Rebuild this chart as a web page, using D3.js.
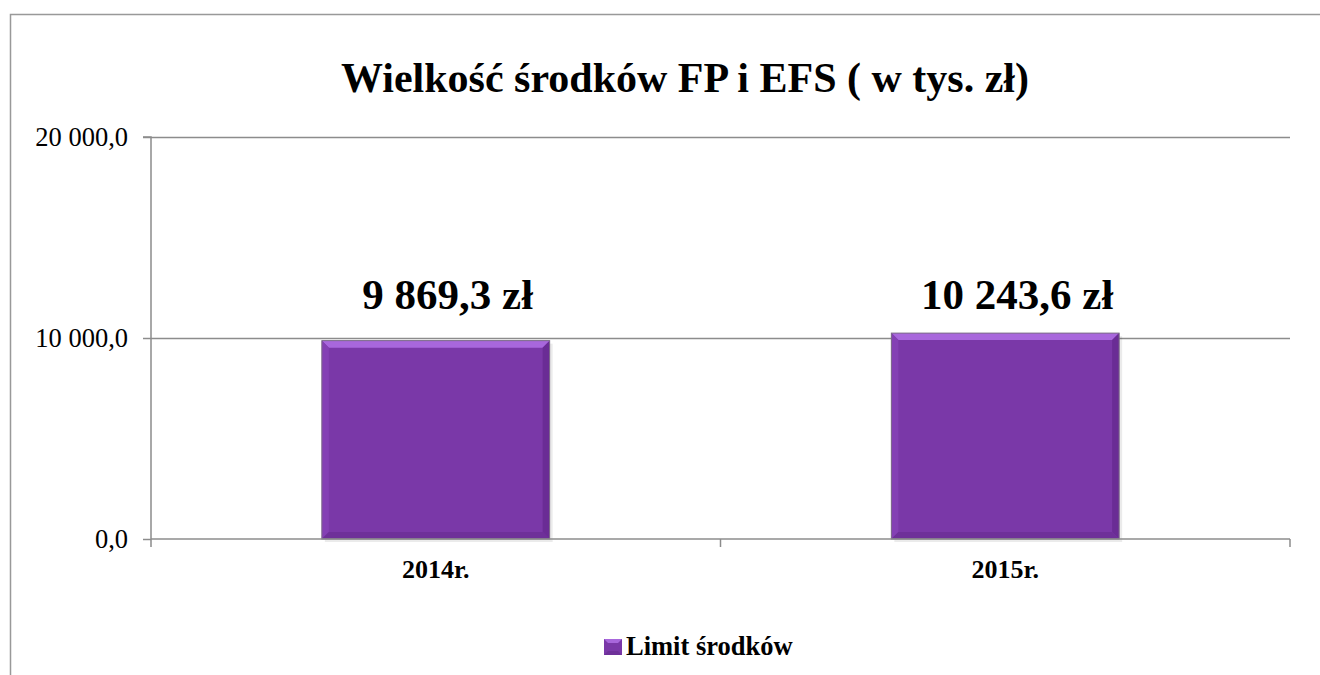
<!DOCTYPE html>
<html>
<head>
<meta charset="utf-8">
<script src="https://cdn.jsdelivr.net/npm/d3@7"></script>
<style>
  body { margin: 0; background: #fff; }
</style>
</head>
<body>
<svg id="chart"></svg>
<script>
// data
var categories = ["2014r.", "2015r."];
var values = [9869.3, 10243.6];
var yTicks = [0, 10000, 20000];
var seriesName = "Limit środków";
var title = "Wielkość środków FP i EFS ( w tys. zł)";

var width = 1320, height = 675;
var margin = { left: 151, right: 30, top: 137, bottom: 136 };
var serif = "'Liberation Serif'";

var svg = d3.select("#chart").attr("width", width).attr("height", height)
    .style("font-family", serif);

// outer frame (bottom edge is outside the picture)
svg.append("path")
    .attr("d", "M10.5,700 L10.5,14.5 L1330,14.5")
    .attr("fill", "none")
    .attr("stroke", "#999")
    .attr("stroke-width", 1.5);

var x = d3.scaleBand()
    .domain(categories)
    .range([margin.left, width - margin.right])
    .paddingInner(0.6)
    .paddingOuter(0.3);

var y = d3.scaleLinear()
    .domain([0, 20000])
    .range([height - margin.bottom, margin.top]);

var fmt = function(v) {
    return d3.format(",.1f")(v).replace(/,/g, " ").replace(".", ",");
};

// gridlines
svg.append("g").selectAll("line")
    .data(yTicks.slice(1))
    .enter().append("line")
    .attr("x1", margin.left).attr("x2", width - margin.right)
    .attr("y1", function(d) { return Math.round(y(d)) + 0.5; })
    .attr("y2", function(d) { return Math.round(y(d)) + 0.5; })
    .attr("stroke", "#8c8c8c")
    .attr("stroke-width", 1.5);

// bars with bevel
var bars = svg.append("g").selectAll("g")
    .data(values)
    .enter().append("g");

var bev = 7;
bars.each(function(d, i) {
    var g = d3.select(this);
    var x0 = x(categories[i]), x1 = x0 + x.bandwidth();
    var y0 = y(d), y1 = y(0);
    g.append("rect")
        .attr("x", x0 + 3).attr("y", y0 + 3)
        .attr("width", x1 - x0).attr("height", y1 - y0)
        .attr("fill", "#000").attr("opacity", 0.08);
    g.append("rect")
        .attr("x", x0).attr("y", y0)
        .attr("width", x1 - x0).attr("height", y1 - y0)
        .attr("fill", "#7a38a8");
    g.append("polygon")
        .attr("points", [[x0, y0], [x1, y0], [x1 - bev, y0 + bev], [x0 + bev, y0 + bev]].join(" "))
        .attr("fill", "#a867dc");
    g.append("polygon")
        .attr("points", [[x0, y0], [x0 + bev, y0 + bev], [x0 + bev, y1 - bev], [x0, y1]].join(" "))
        .attr("fill", "#8440b4");
    g.append("polygon")
        .attr("points", [[x1, y0], [x1, y1], [x1 - bev, y1 - bev], [x1 - bev, y0 + bev]].join(" "))
        .attr("fill", "#6a2c95");
    g.append("polygon")
        .attr("points", [[x0, y1], [x1, y1], [x1 - bev, y1 - bev], [x0 + bev, y1 - bev]].join(" "))
        .attr("fill", "#6e3099");
    g.append("rect")
        .attr("x", x0).attr("y", y0)
        .attr("width", x1 - x0).attr("height", y1 - y0)
        .attr("fill", "none")
        .attr("stroke", "#7c6c88").attr("stroke-width", 1);
});

// value labels
svg.append("g").selectAll("text")
    .data(values)
    .enter().append("text")
    .attr("x", function(d, i) { return x(categories[i]) + x.bandwidth() / 2 + 12; })
    .attr("y", 309)
    .attr("text-anchor", "middle")
    .attr("font-weight", "bold")
    .attr("font-size", 43)
    .style("font-family", serif)
    .text(function(d) { return fmt(d) + " zł"; });

// y axis
var yAxis = d3.axisLeft(y)
    .tickValues(yTicks)
    .tickSize(8)
    .tickFormat(fmt);
var ya = svg.append("g")
    .attr("transform", "translate(" + margin.left + ",0)")
    .call(yAxis);
ya.select(".domain").attr("stroke", "#8c8c8c").attr("stroke-width", 1.5)
    .attr("d", "M-8," + y(20000) + "H0V" + (y(0) + 8));
ya.selectAll(".tick line").attr("stroke", "#8c8c8c").attr("stroke-width", 1.5);
ya.selectAll(".tick text")
    .attr("font-size", 26.5)
    .attr("fill", "#000")
    .attr("dx", -12)
    .attr("dy", "0.32em")
    .style("font-family", serif);

// x axis
var xAxis = d3.axisBottom(x).tickSize(0).tickPadding(18);
var xa = svg.append("g")
    .attr("transform", "translate(0," + y(0) + ")")
    .call(xAxis);
xa.select(".domain").attr("stroke", "#8c8c8c").attr("stroke-width", 1.5)
    .attr("d", "M" + margin.left + ",0H" + (width - margin.right));
xa.selectAll(".tick text")
    .attr("font-size", 26)
    .attr("font-weight", "bold")
    .attr("fill", "#000")
    .attr("dy", "0.8em")
    .style("font-family", serif);

// category separators
var sep = [margin.left + (width - margin.right - margin.left) / 2, width - margin.right];
svg.append("g").selectAll("line")
    .data(sep)
    .enter().append("line")
    .attr("x1", function(d) { return d; }).attr("x2", function(d) { return d; })
    .attr("y1", y(0)).attr("y2", y(0) + 8)
    .attr("stroke", "#8c8c8c").attr("stroke-width", 1.5);

// title
svg.append("text")
    .attr("x", 685)
    .attr("y", 92)
    .attr("text-anchor", "middle")
    .attr("font-weight", "bold")
    .attr("font-size", 42)
    .style("font-family", serif)
    .text(title);

// legend
var lg = svg.append("g").attr("transform", "translate(604,639)");
lg.append("rect").attr("width", 18).attr("height", 16).attr("fill", "#7a38a8");
lg.append("polygon").attr("points", "0,0 18,0 14,4 4,4").attr("fill", "#a867dc");
lg.append("polygon").attr("points", "0,16 18,16 14,12 4,12").attr("fill", "#6e3099");
lg.append("text")
    .attr("x", 22).attr("y", 16)
    .attr("font-weight", "bold")
    .attr("font-size", 26.5)
    .style("font-family", serif)
    .text(seriesName);
</script>
</body>
</html>
